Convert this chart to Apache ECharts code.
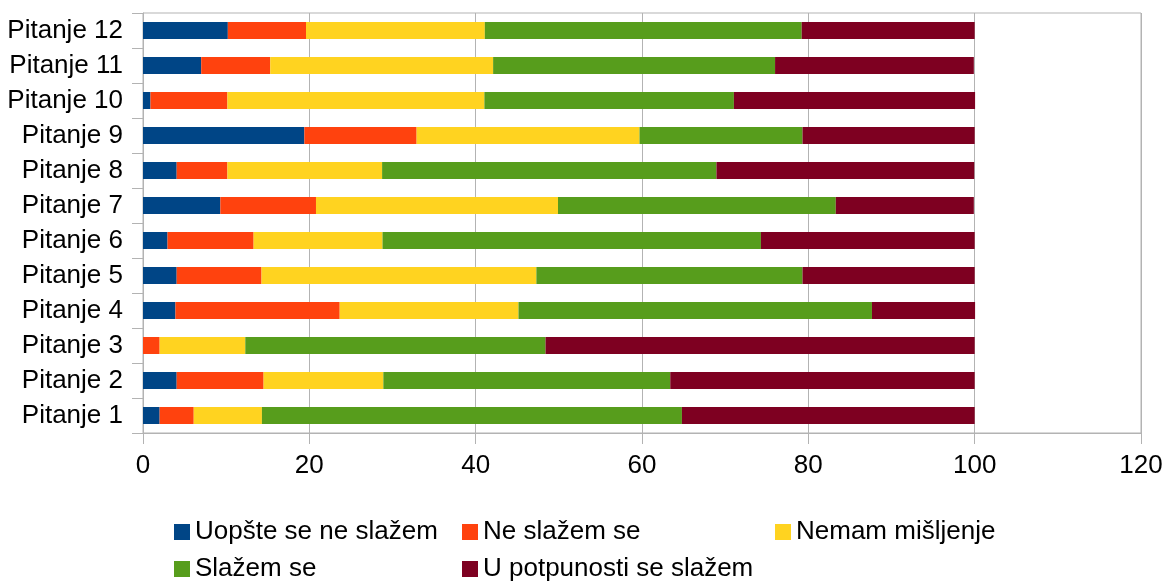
<!DOCTYPE html>
<html lang="en">
<head>
<meta charset="UTF-8">
<title>Pitanja</title>
<style>
  html, body { margin: 0; padding: 0; background: #fff; }
  #container { width: 1169px; height: 581px; }
</style>
</head>
<body>
<div id="container"></div>
<script src="https://cdn.jsdelivr.net/npm/echarts@6/dist/echarts.min.js"></script>
<script>
// kategorije (odozdo prema gore)
var pitanja = ['Pitanje 1', 'Pitanje 2', 'Pitanje 3', 'Pitanje 4', 'Pitanje 5', 'Pitanje 6',
               'Pitanje 7', 'Pitanje 8', 'Pitanje 9', 'Pitanje 10', 'Pitanje 11', 'Pitanje 12'];

var nazivi = ['Uopšte se ne slažem', 'Ne slažem se', 'Nemam mišljenje', 'Slažem se', 'U potpunosti se slažem'];

// procenti po pitanju
var uopsteNe    = [2.0, 4.05, 0,    3.9,  4.05, 2.95, 9.3,  4.05, 19.4, 0.9,  7.0,  10.2];
var neSlazem    = [4.1, 10.45, 2.0, 19.75, 10.2, 10.35, 11.5, 6.1, 13.5, 9.25, 8.3,  9.4];
var nemam       = [8.2, 14.4, 10.3, 21.5, 33.05, 15.5, 29.1, 18.6, 26.8, 30.9, 26.8, 21.5];
var slazem      = [50.5, 34.5, 36.1, 42.5, 32.0, 45.5, 33.4, 40.2, 19.6, 30.0, 33.9, 38.1];
var uPotpunosti = [35.2, 36.6, 51.6, 12.4, 20.7, 25.7, 16.6, 31.0, 20.7, 29.0, 23.9, 20.8];

var xTicks = [0, 20, 40, 60, 80, 100, 120];

var boje = ['#004586', '#ff420e', '#ffd320', '#579d1c', '#7e0021'];
var vrijednosti = [uopsteNe, neSlazem, nemam, slazem, uPotpunosti];

var font = 'Liberation Sans, Arial, sans-serif';
var sivo = '#b3b3b3';

var myChart = echarts.init(document.getElementById('container'));

var series = [];
for (var i = 0; i < nazivi.length; i++) {
    series.push({
        name: nazivi[i],
        type: 'bar',
        stack: 'ukupno',
        barWidth: 17,
        data: vrijednosti[i],
        itemStyle: { color: boje[i] }
    });
}

// legenda u dva reda, tri kolone
var legPos = [[174, 519], [462, 519], [775, 519], [174, 556], [462, 556]];
var legends = [];
for (var j = 0; j < nazivi.length; j++) {
    legends.push({
        data: [nazivi[j]],
        left: legPos[j][0],
        top: legPos[j][1],
        padding: 0,
        icon: 'rect',
        itemWidth: 16,
        itemHeight: 16,
        selectedMode: false,
        textStyle: { fontFamily: font, fontSize: 26, color: '#000', lineHeight: 26 }
    });
}

var option = {
    animation: false,
    color: boje,
    grid: {
        left: 143,
        right: 28,
        top: 13,
        bottom: 148,
        show: true,
        borderColor: sivo,
        borderWidth: 1,
        containLabel: false
    },
    legend: legends,
    xAxis: {
        type: 'value',
        min: xTicks[0],
        max: xTicks[xTicks.length - 1],
        interval: 20,
        axisLine: { show: true, lineStyle: { color: sivo, width: 1 } },
        axisTick: { show: true, length: 11, lineStyle: { color: sivo } },
        splitLine: { show: true, lineStyle: { color: sivo, width: 1 } },
        axisLabel: { fontFamily: font, fontSize: 26, color: '#000', margin: 20 }
    },
    yAxis: {
        type: 'category',
        data: pitanja,
        axisLine: { show: true, lineStyle: { color: sivo, width: 1 } },
        axisTick: { show: true, length: 11, interval: 0, lineStyle: { color: sivo } },
        splitLine: { show: false },
        axisLabel: { fontFamily: font, fontSize: 26, color: '#000', margin: 20, interval: 0 }
    },
    series: series
};

myChart.setOption(option, true);
</script>
</body>
</html>
